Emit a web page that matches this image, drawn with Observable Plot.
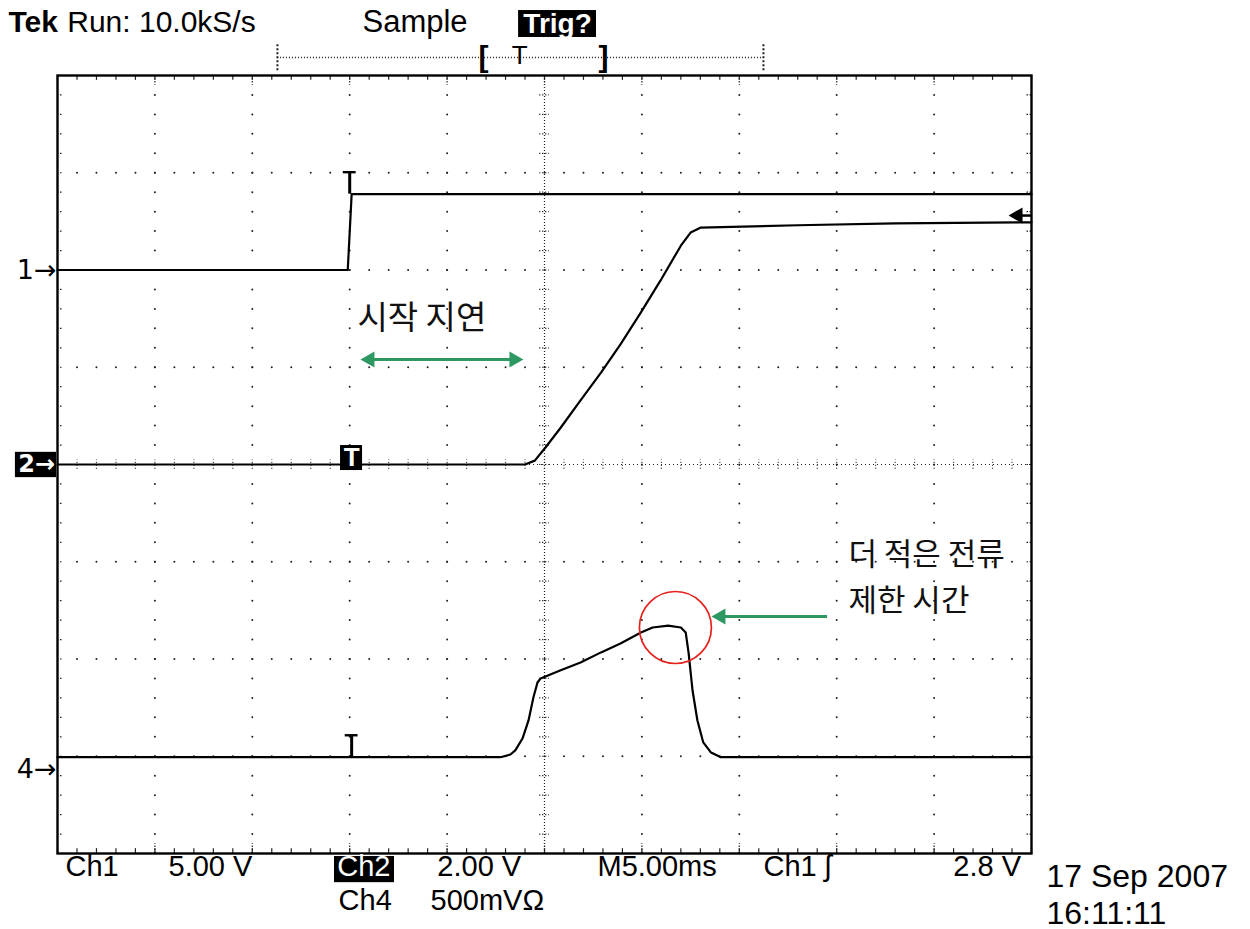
<!DOCTYPE html>
<html>
<head>
<meta charset="utf-8">
<script src="https://cdn.jsdelivr.net/npm/d3@7"></script>
<script src="https://cdn.jsdelivr.net/npm/@observablehq/plot@0.6"></script>
<style>
html,body{margin:0;padding:0;background:#fff;}
#chart svg{display:block;}
</style>
</head>
<body>
<div id="chart"></div>
<script>
// ---------------- DATA (time in ms from trigger, values in channel units) ----------------
const ch1Time  = [-15, -0.1, 0.0, 0.1, 35];
const ch1Volts = [0.0, 0.0, 1.95, 3.9, 3.9];

const ch2Time  = [-15, 9.0, 9.5, 10.05, 10.8, 11.85, 12.9, 13.9, 14.95, 15.95, 17.0, 17.5, 18.0, 23, 28, 35];
const ch2Volts = [0.0, 0.0, 0.08, 0.35, 0.74, 1.32, 1.89, 2.47, 3.13, 3.78, 4.50, 4.77, 4.87, 4.92, 4.96, 4.98];

const ch4Time  = [-15, 7.75, 8.25, 8.5, 8.87, 9.18, 9.43, 9.64, 9.8, 10.8, 11.85, 12.9, 13.9, 14.95, 15.55, 16.35, 17.0, 17.25, 17.4, 17.6, 17.85, 18.15, 18.55, 19.05, 35];
const ch4Volts = [0.06, 0.06, 0.074, 0.095, 0.156, 0.249, 0.367, 0.444, 0.465, 0.506, 0.547, 0.599, 0.645, 0.701, 0.727, 0.737, 0.727, 0.701, 0.594, 0.403, 0.249, 0.136, 0.084, 0.06, 0.06];

const channelNames   = ["1", "2", "4"];
const voltsPerDiv    = [5.0, 2.0, 0.5];
const triggerLevel   = 2.8;   // V on Ch1
const triggerTime    = 0;     // ms

// text
const headerRun    = ["Run: 10.0kS/s"];
const headerTek    = ["Tek"];
const headerSample = ["Sample"];
const headerTrig   = ["Trig?"];
const bottomRow1   = ["Ch1", "5.00 V", "2.00 V", "M5.00ms", "Ch1 ʃ"];
const bottomCh2    = ["Ch2"];
const bottomLevel  = ["2.8 V"];
const bottomRow2   = ["Ch4", "500mVΩ"];
const dateLines    = ["17 Sep 2007", "16:11:11"];
const noteDelay    = ["시작 지연"];
const noteLimit    = ["더 적은 전류\n제한 시간"];

// ---------------- layout helpers (not data) ----------------
const chOffsetDiv = [2.0, 0.0, -3.13]; // ground-marker positions in divisions
const toDiv = (v, k) => v / voltsPerDiv[k] + chOffsetDiv[k];

const traces = [
  ...ch1Time.map((t, i) => ({ch: "1", t, d: toDiv(ch1Volts[i], 0)})),
  ...ch2Time.map((t, i) => ({ch: "2", t, d: toDiv(ch2Volts[i], 1)})),
  ...ch4Time.map((t, i) => ({ch: "4", t, d: toDiv(ch4Volts[i], 2)}))
];

const majorX = d3.range(-15, 35.001, 5);
const minorX = d3.range(-15, 35.001, 1);
const majorY = d3.range(-4, 4.001, 1);
const minorY = d3.range(-4, 4.001, 0.2);

const gridDots = [];
for (const x of majorX) if (x > -15 && x < 35 && x !== 10) for (const y of minorY) if (y > -3.99 && y < 3.99) gridDots.push({x, y});
for (const y of majorY) if (y > -4 && y < 4 && y !== 0) for (const x of minorX) if (x > -14.9 && x < 34.9) gridDots.push({x, y});

const trigDiv = triggerLevel / voltsPerDiv[0] + chOffsetDiv[0];
const ch1High = toDiv(ch1Volts[3], 0);
const ch4Base = toDiv(ch4Volts[0], 2);

const osc = "Liberation Sans, Arial, sans-serif";
const dj  = "DejaVu Sans, sans-serif";
const kr  = "Noto Sans CJK KR, sans-serif";
const green = "#2e9863";
const black = "#111";

const chart = Plot.plot({
  width: 1250,
  height: 929,
  marginLeft: 57,
  marginRight: 219,
  marginTop: 75,
  marginBottom: 76,
  x: {domain: [-15, 35], axis: null},
  y: {domain: [-4, 4], axis: null},
  style: {background: "#ffffff", fontFamily: osc, overflow: "visible"},
  marks: [
    // grid dots
    Plot.dot(gridDots, {x: "x", y: "y", r: 1, fill: "#222", stroke: null}),
    // center crosshair
    Plot.ruleX([10], {stroke: "#222", strokeWidth: 1.2, strokeDasharray: "1,2"}),
    Plot.ruleY([0], {stroke: "#222", strokeWidth: 1.2, strokeDasharray: "1,3"}),
    Plot.ruleY(minorY, {x1: 9.75, x2: 10.25, stroke: "#222", strokeWidth: 1.2, strokeDasharray: "1.2,1.8"}),
    Plot.ruleX(minorX, {y1: -0.05, y2: 0.05, stroke: "#222", strokeWidth: 1.2, strokeDasharray: "1.2,1.8"}),
    // frame edge ticks
    Plot.ruleX(minorX, {y1: 4, y2: 3.95, stroke: "#222", strokeWidth: 1.2}),
    Plot.ruleX(minorX, {y1: -4, y2: -3.95, stroke: "#222", strokeWidth: 1.2}),
    Plot.ruleY(minorY, {x1: -15, x2: -14.74, stroke: "#222", strokeWidth: 1.2, strokeDasharray: "1.5,1.5"}),
    Plot.ruleY(minorY, {x1: 35, x2: 34.74, stroke: "#222", strokeWidth: 1.2, strokeDasharray: "1.5,1.5"}),
    Plot.ruleX(majorX, {y1: 4, y2: 3.9, stroke: "#222", strokeWidth: 1.2, strokeDasharray: "1.5,1.5"}),
    Plot.ruleX(majorX, {y1: -4, y2: -3.9, stroke: "#222", strokeWidth: 1.2, strokeDasharray: "1.5,1.5"}),
    Plot.frame({stroke: "#000", strokeWidth: 2.4}),

    // traces
    Plot.line(traces, {x: "t", y: "d", z: "ch", stroke: "#000", strokeWidth: 2.2, curve: "linear"}),

    // trigger-position markers "T"
    Plot.ruleX([triggerTime], {y1: ch1High, y2: ch1High + 0.226, stroke: "#000", strokeWidth: 3}),
    Plot.ruleY([ch1High + 0.226], {x1: triggerTime - 0.33, x2: triggerTime + 0.33, stroke: "#000", strokeWidth: 2.4}),
    Plot.ruleX([triggerTime + 0.1], {y1: ch4Base, y2: ch4Base + 0.226, stroke: "#000", strokeWidth: 3}),
    Plot.ruleY([ch4Base + 0.226], {x1: triggerTime - 0.23, x2: triggerTime + 0.43, stroke: "#000", strokeWidth: 2.4}),
    Plot.rect([0], {x1: triggerTime - 0.47, x2: triggerTime + 0.66, y1: 0.195, y2: -0.062, fill: "#000"}),
    Plot.text(["T"], {x: triggerTime + 0.1, y: 0.067, fill: "#fff", fontSize: 26, fontWeight: "bold"}),

    // trigger level marker (right edge)
    Plot.dot([trigDiv], {x: 34.3, y: d => d, symbol: "triangle", rotate: -90, r: 6, fill: "#000", stroke: null}),
    Plot.ruleY([trigDiv], {x1: 34.3, x2: 35, stroke: "#000", strokeWidth: 2.5}),

    // channel ground markers
    Plot.text(["1→"], {x: -15.05, y: chOffsetDiv[0], textAnchor: "end", fontFamily: dj, fontSize: 27, fill: "#000"}),
    Plot.rect([0], {x1: -17.16, x2: -15.05, y1: 0.125, y2: -0.135, fill: "#000"}),
    Plot.text(["2→"], {x: -15.12, y: chOffsetDiv[1], textAnchor: "end", fontFamily: dj, fontWeight: "bold", fontSize: 24, fill: "#fff"}),
    Plot.text(["4→"], {x: -15.05, y: chOffsetDiv[2], textAnchor: "end", fontFamily: dj, fontSize: 27, fill: "#000"}),

    // header
    Plot.text(headerTek, {x: -17.52, y: 4.545, textAnchor: "start", fontSize: 30, fontWeight: "bold", fill: "#000"}),
    Plot.text(headerRun, {x: -14.5, y: 4.545, textAnchor: "start", fontSize: 30, fill: "#000"}),
    Plot.text(headerSample, {x: 0.657, y: 4.545, textAnchor: "start", fontSize: 31, fill: "#000"}),
    Plot.rect([0], {x1: 8.67, x2: 12.67, y1: 4.668, y2: 4.391, fill: "#000"}),
    Plot.text(headerTrig, {x: 10.67, y: 4.532, fontSize: 28, fontWeight: "bold", fill: "#fff"}),

    // record / screen indicator
    Plot.ruleY([4.185], {x1: -3.71, x2: 21.24, stroke: "#222", strokeWidth: 1.3, strokeDasharray: "1,2"}),
    Plot.ruleX([-3.71, 21.24], {y1: 4.05, y2: 4.33, stroke: "#222", strokeWidth: 2, strokeDasharray: "2,2"}),
    Plot.text(["["], {x: 6.87, y: 4.185, fontSize: 30, fontWeight: "bold", fill: "#000"}),
    Plot.text(["]"], {x: 13.03, y: 4.185, fontSize: 30, fontWeight: "bold", fill: "#000"}),
    Plot.text(["T"], {x: 8.72, y: 4.2, fontSize: 26, fill: "#000"}),

    // bottom readout
    Plot.text(bottomRow1, {x: [-14.59, -9.30, 4.50, 12.72, 21.24], y: -4.134, textAnchor: "start", fontSize: 29, fill: "#000"}),
    Plot.rect([0], {x1: -0.78, x2: 2.30, y1: -4.031, y2: -4.300, fill: "#000"}),
    Plot.text(bottomCh2, {x: -0.64, y: -4.134, textAnchor: "start", fontSize: 29, fill: "#fff"}),
    Plot.text(bottomLevel, {x: 34.46, y: -4.134, textAnchor: "end", fontSize: 29, fill: "#000"}),
    Plot.text(bottomRow2, {x: [-0.57, 4.15], y: -4.49, textAnchor: "start", fontSize: 29, fill: "#000"}),
    Plot.text(dateLines, {x: 35.77, y: [-4.237, -4.617], textAnchor: "start", fontSize: 32, fill: "#000"}),

    // annotations
    Plot.text(noteDelay, {x: 0.40, y: 1.501, textAnchor: "start", fontFamily: kr, fontSize: 33, fill: black}),
    Plot.ruleY([1.08], {x1: 1.0, x2: 8.45, stroke: green, strokeWidth: 3}),
    Plot.dot([1.08], {x: 1.03, y: d => d, symbol: "triangle", rotate: -90, r: 6, fill: green, stroke: null}),
    Plot.dot([1.08], {x: 8.44, y: d => d, symbol: "triangle", rotate: 90, r: 6, fill: green, stroke: null}),

    Plot.text(noteLimit, {x: 25.60, y: -1.1155, textAnchor: "start", lineAnchor: "middle", lineHeight: 1.49, fontFamily: kr, fontSize: 31, fill: black}),
    Plot.ruleY([-1.563], {x1: 19.0, x2: 24.53, stroke: green, strokeWidth: 3}),
    Plot.dot([-1.563], {x: 19.05, y: d => d, symbol: "triangle", rotate: -90, r: 6, fill: green, stroke: null}),
    Plot.dot([0], {x: 16.72, y: -1.676, r: 36, fill: "none", stroke: "#e6211c", strokeWidth: 1.7})
  ]
});
document.getElementById("chart").append(chart);
</script>
</body>
</html>
